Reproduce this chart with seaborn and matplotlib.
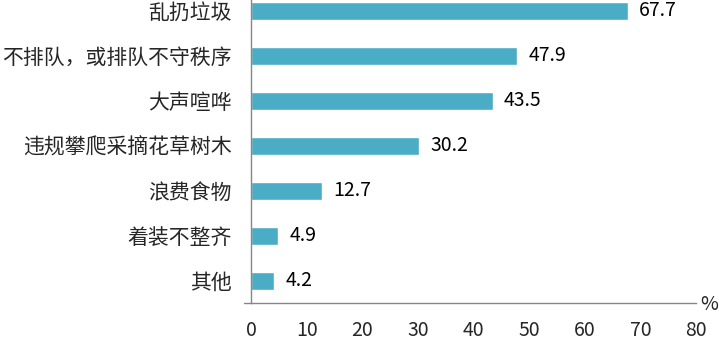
import matplotlib
matplotlib.use("Agg")
import matplotlib.pyplot as plt
import seaborn as sns
import pandas as pd
import numpy as np
from matplotlib.ticker import FixedLocator

categories = ["乱扔垃圾", "不排队，或排队不守秩序", "大声喧哗", "违规攀爬采摘花草树木", "浪费食物", "着装不整齐", "其他"]
values = [67.7, 47.9, 43.5, 30.2, 12.7, 4.9, 4.2]
xticks = [0, 10, 20, 30, 40, 50, 60, 70, 80]

sns.set_style("white")
plt.rcParams['font.family'] = ['Noto Sans CJK SC', 'DejaVu Sans']

df = pd.DataFrame({"cat": categories, "val": values})

fig = plt.figure(figsize=(7.19, 3.42), dpi=100)
W, H = 719, 342
left, right = 251, 696
bottom, top = 303, -12
ax = fig.add_axes([left / W, (H - bottom) / H, (right - left) / W, (bottom - top) / H])

sns.barplot(data=df, x="val", y="cat", orient="h", color="#4BACC6", width=0.4,
            saturation=1, ax=ax)

ax.set_xlim(0, 80)
ax.set_ylim(len(categories) - 0.5, -0.5)
ax.set_xlabel("")
ax.set_ylabel("")

for c in ax.containers:
    ax.bar_label(c, labels=[f"{v:.1f}" for v in values], padding=8, fontsize=14, color="black")

ax.set_xticks(xticks)
ax.set_xticklabels([str(t) for t in xticks], fontsize=14)
ax.tick_params(axis="x", direction="out", length=6, width=1, color="#868686", pad=6)
ax.tick_params(axis="y", which="major", length=0, pad=14, labelsize=15)
ax.yaxis.set_minor_locator(FixedLocator(np.arange(-0.5, len(categories), 1.0)))
ax.tick_params(axis="y", which="minor", direction="out", length=5, width=1, color="#868686")

for s in ["top", "right"]:
    ax.spines[s].set_visible(False)
for s in ["left", "bottom"]:
    ax.spines[s].set_color("#868686")
    ax.spines[s].set_linewidth(1)
ax.spines["bottom"].set_bounds(0, 80)
ax.set_xlim(0, 80)

ax.plot([-1.2, 0], [len(categories) - 0.5] * 2, color="#868686", lw=1, clip_on=False)

fig.text(709 / W, (H - 305) / H, "%", fontsize=14, ha="center", va="center")

fig.savefig("out.png", dpi=100)
